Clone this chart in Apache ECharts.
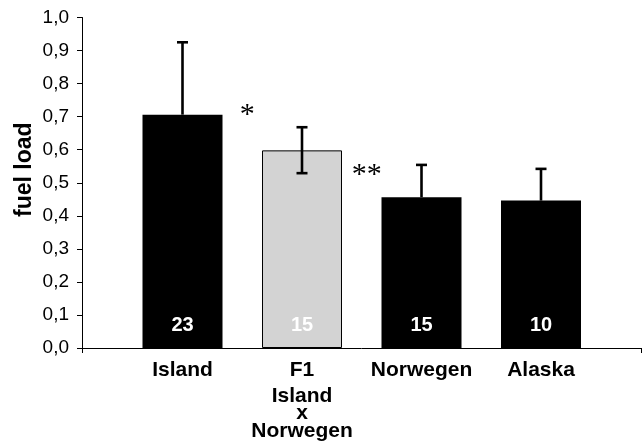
<!DOCTYPE html>
<html>
<head>
<meta charset="utf-8">
<script src="https://cdn.jsdelivr.net/npm/echarts@6/dist/echarts.min.js"></script>
<style>
  html, body { margin: 0; padding: 0; background: #fff; }
  #chart { width: 643px; height: 443px; }
</style>
</head>
<body>
<div id="chart"></div>
<script>
// Populations and their mean fuel load
const categories = ['Island', 'F1', 'Norwegen', 'Alaska'];
const subLabels = ['', 'Island\nx\nNorwegen', '', ''];
const means = [0.706, 0.598, 0.456, 0.446];
// Error bar ends (upper; lower only where drawn)
const errHigh = [0.925, 0.668, 0.554, 0.542];
const errLow = [null, 0.529, null, null];
// Sample sizes printed inside the bars
const counts = [23, 15, 15, 10];
// Significance marks placed between neighbouring bars
const sigAfter = [0, 1];
const sigLevels = [0.723, 0.54];
const sigMarks = ['*', '**'];

const FONT = '"Liberation Sans", Arial, sans-serif';
const fillFor = i => (i === 1
  ? { color: '#d3d3d3', borderColor: '#000', borderWidth: 1 }
  : { color: '#000' });

const chart = echarts.init(document.getElementById('chart'), null, { renderer: 'canvas' });

const option = {
  animation: false,
  backgroundColor: '#fff',
  grid: [
    { left: 82, right: 2, top: 17.5, bottom: 95 },
    { left: 122.75, width: 478, top: 17.5, bottom: 95 }
  ],
  xAxis: [
    {
      type: 'value', gridIndex: 0, min: 0, max: 1, interval: 1,
      axisLine: { show: true, lineStyle: { color: '#000', width: 1 } },
      axisTick: { show: true, length: 5, lineStyle: { color: '#000' } },
      axisLabel: { show: false },
      splitLine: { show: false }
    },
    {
      type: 'category', gridIndex: 1, data: categories,
      axisLine: { show: false },
      axisTick: { show: false },
      axisLabel: {
        interval: 0,
        margin: 6,
        formatter: (value, idx) => {
          let s = '{a|' + value + '}';
          if (subLabels[idx]) {
            s += '\n' + subLabels[idx].split('\n').map(t => '{b|' + t + '}').join('\n');
          }
          return s;
        },
        rich: {
          a: { fontSize: 21, fontWeight: 'bold', color: '#000', fontFamily: FONT, lineHeight: 33 },
          b: { fontSize: 21, fontWeight: 'bold', color: '#000', fontFamily: FONT, lineHeight: 17.5 }
        }
      }
    }
  ],
  yAxis: [
    {
      type: 'value', gridIndex: 0, min: 0, max: 1, interval: 0.1,
      axisLine: { show: true, lineStyle: { color: '#000', width: 1 } },
      axisTick: { show: true, length: 5, lineStyle: { color: '#000' } },
      splitLine: { show: false },
      axisLabel: {
        margin: 13, fontSize: 19, color: '#000', fontFamily: FONT,
        formatter: v => v.toFixed(1).replace('.', ',')
      },
      name: 'fuel load',
      nameLocation: 'middle',
      nameMoveOverlap: false,
      nameGap: 46,
      nameTextStyle: {
        fontSize: 23, fontWeight: 'bold', color: '#000', fontFamily: FONT,
        padding: [0, 0, 0, 26]
      }
    },
    { type: 'value', gridIndex: 1, min: 0, max: 1, show: false }
  ],
  series: [
    {
      type: 'bar',
      xAxisIndex: 1, yAxisIndex: 1,
      barWidth: 80,
      data: means.map((v, i) => ({ value: v, itemStyle: fillFor(i) })),
      label: {
        show: true, position: 'insideBottom', distance: 13,
        color: '#fff', fontSize: 20, fontWeight: 'bold', fontFamily: FONT,
        formatter: p => String(counts[p.dataIndex])
      },
      z: 2
    },
    {
      type: 'custom',
      xAxisIndex: 1, yAxisIndex: 1,
      clip: false,
      z: 3,
      data: means.map((m, i) => [i, errHigh[i], errLow[i] != null ? errLow[i] : m, errLow[i] != null ? 1 : 0]),
      encode: { x: 0, y: [1, 2] },
      renderItem: (params, api) => {
        const i = api.value(0);
        const hi = api.coord([i, api.value(1)]);
        const lo = api.coord([i, api.value(2)]);
        const half = 5.5;
        const st = { stroke: '#000', lineWidth: 2.6 };
        const children = [
          { type: 'line', shape: { x1: hi[0], y1: hi[1], x2: lo[0], y2: lo[1] }, style: st },
          { type: 'line', shape: { x1: hi[0] - half, y1: hi[1], x2: hi[0] + half, y2: hi[1] }, style: st }
        ];
        if (api.value(3)) {
          children.push({ type: 'line', shape: { x1: lo[0] - half, y1: lo[1], x2: lo[0] + half, y2: lo[1] }, style: st });
        }
        return { type: 'group', children };
      }
    },
    {
      type: 'custom',
      xAxisIndex: 1, yAxisIndex: 1,
      clip: false,
      z: 3,
      data: sigAfter.map((k, j) => [k, sigLevels[j], j]),
      encode: { x: 0, y: 1 },
      renderItem: (params, api) => {
        const k = api.value(0);
        const a = api.coord([k, api.value(1)]);
        const b = api.coord([k + 1, api.value(1)]);
        // the serif asterisk sits high in its em box, so drop the anchor a little
        return {
          type: 'text',
          style: {
            text: sigMarks[api.value(2)],
            x: (a[0] + b[0]) / 2 + 5,
            y: a[1] + 6,
            align: 'center',
            verticalAlign: 'middle',
            font: '30px "Liberation Serif", "Times New Roman", serif',
            fill: '#000'
          }
        };
      }
    }
  ]
};

chart.setOption(option);
</script>
</body>
</html>
